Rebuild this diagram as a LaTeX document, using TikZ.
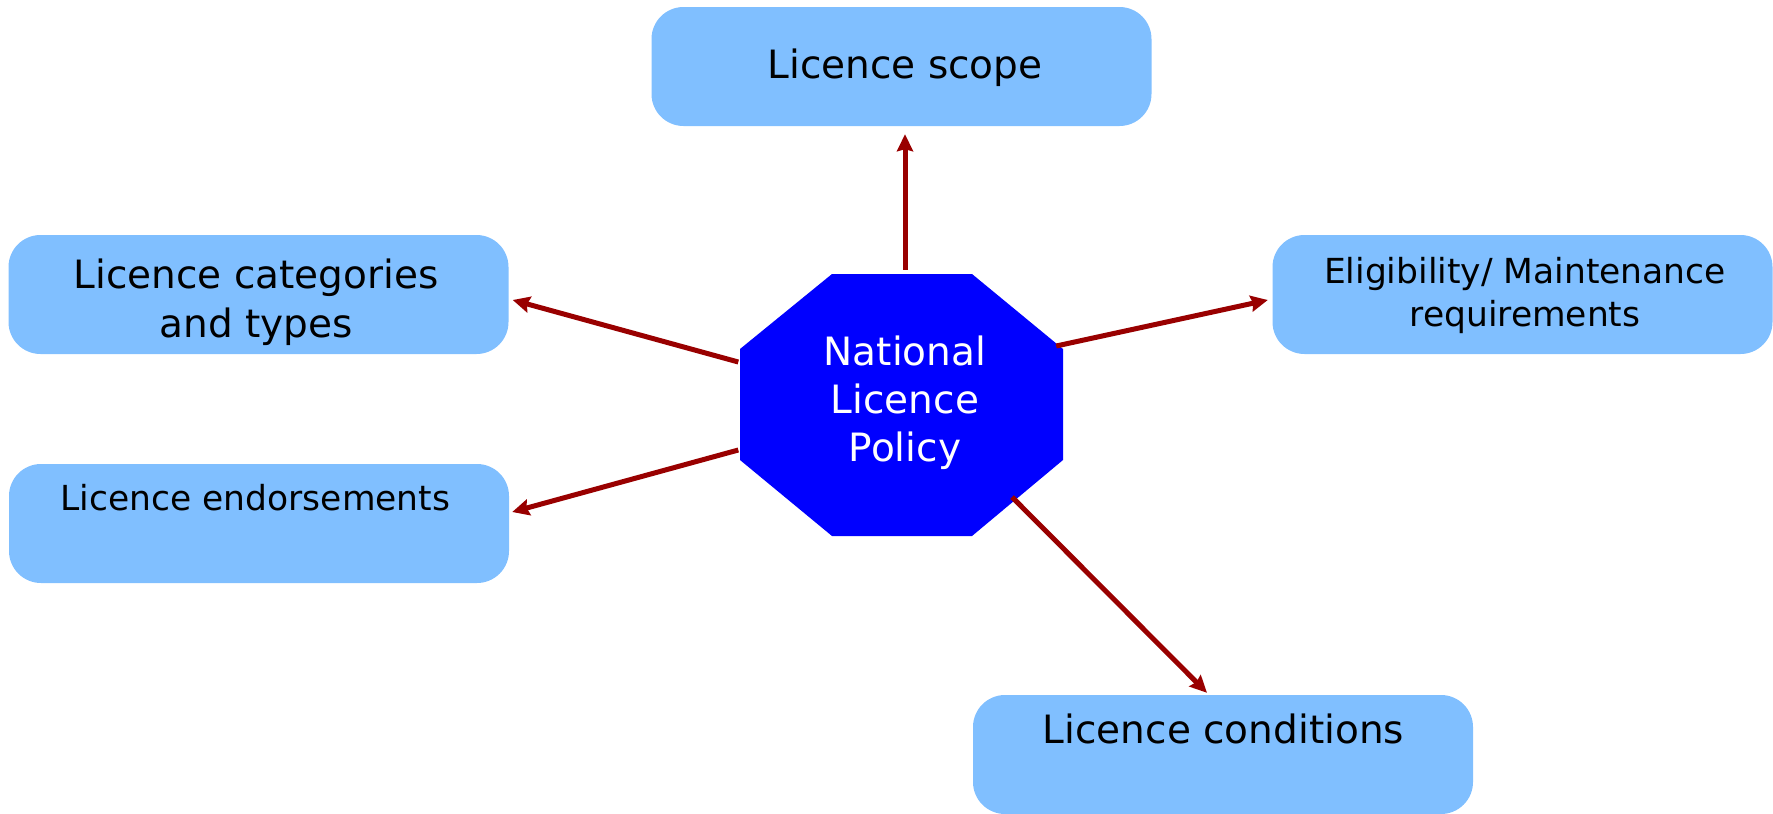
\documentclass[tikz,border=0pt]{standalone}
\usepackage{fontspec}
\setmainfont{DejaVu Sans}
\usetikzlibrary{arrows.meta,calc}
\definecolor{boxblue}{RGB}{128,191,255}
\definecolor{octblue}{RGB}{0,0,255}
\definecolor{arrred}{RGB}{153,0,0}
\begin{document}
\begin{tikzpicture}[x=1pt,y=-1pt,
  box/.style={draw=none, fill=boxblue, rounded corners=32pt, minimum width=500pt, minimum height=119pt, inner sep=0pt},
  bigtxt/.style={font=\fontsize{39}{49}\selectfont, align=center, inner sep=0pt, text=black, anchor=base},
  smalltxt/.style={font=\fontsize{34.5}{43}\selectfont, align=center, inner sep=0pt, text=black, anchor=base},
  octtxt/.style={font=\fontsize{39}{48}\selectfont, align=center, inner sep=0pt, text=white, anchor=base},
  conn/.style={draw=arrred, line width=5pt, -{Stealth[length=17pt,width=16pt,inset=2pt]}}]
\useasboundingbox (0,0) rectangle (1773,814);
% boxes
\node[box] (scope) at (901.5,66.5) {};
\node[box] (cat) at (258.5,294.5) {};
\node[box] (elig) at (1522.5,294.5) {};
\node[box] (endo) at (259,523.5) {};
\node[box] (cond) at (1223,754.5) {};
% octagon
\node[minimum width=323pt, minimum height=262pt, inner sep=0pt] (oct) at (901.5,405) {};
\fill[octblue] (832,274) -- (972,274) -- (1063,349) -- (1063,460) -- (972,536) -- (832,536) -- (740,460) -- (740,349) -- cycle;
% texts (base anchor = baseline of the last line)
\node[bigtxt] (scopet) at (905,78) {Licence scope};
\node[bigtxt] (catt) at (256,337) {Licence categories\\and types};
\node[smalltxt] (eligt) at (1525,326) {Eligibility/ Maintenance\\requirements};
\node[smalltxt] (endot) at (255.5,510) {Licence endorsements};
\node[bigtxt] (condt) at (1223.5,743) {Licence conditions};
\node[octtxt] (octt) at (905,461) {National\\Licence\\Policy};
% arrow end points
\coordinate (a1s) at ($(oct.north)+(3.5,-4)$);
\coordinate (a1e) at ($(scope.south)+(3.5,8)$);
\coordinate (a2s) at ($(oct.west)+(-1.5,-43)$);
\coordinate (a2e) at ($(cat.east)+(4,5.5)$);
\coordinate (a3s) at ($(oct.west)+(-1.5,45)$);
\coordinate (a3e) at ($(endo.east)+(3,-11.5)$);
\coordinate (a4s) at ($(oct.east)+(-7,-59)$);
\coordinate (a4e) at ($(elig.west)+(-4.5,5.5)$);
\coordinate (a5s) at (1012,497);
\coordinate (a5e) at ($(cond.north)+(-16,-2)$);
\draw[conn] (a1s) -- (a1e);
\draw[conn] (a2s) -- (a2e);
\draw[conn] (a3s) -- (a3e);
\draw[conn] (a4s) -- (a4e);
\draw[conn] (a5s) -- (a5e);
\end{tikzpicture}
\end{document}
